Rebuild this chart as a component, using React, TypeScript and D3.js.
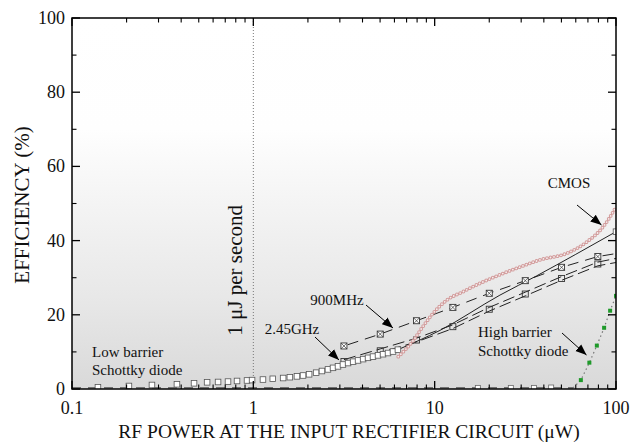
import React from "react";
import * as d3 from "d3";

// ---- data ----
const xTicks = [0.1, 1, 10, 100];
const xTickLabels = ["0.1", "1", "10", "100"];
const yTicks = [0, 20, 40, 60, 80, 100];
const yMinorTicks = [10, 30, 50, 70, 90];

// Low barrier Schottky diode, measured squares
const lowSqP = [0.139, 0.206, 0.276, 0.379, 0.471, 0.556, 0.639, 0.725, 0.813, 0.923, 0.984, 1.13, 1.28, 1.46, 1.59, 1.74, 1.88, 2.03, 2.22, 2.39, 2.58, 2.75, 2.93, 3.12, 3.33, 3.55, 3.78, 4.03, 4.29, 4.57, 4.87, 5.19, 5.53, 5.89, 6.27];
const lowSqEff = [0.46, 0.81, 1.08, 1.27, 1.54, 1.8, 1.89, 2.0, 2.16, 2.3, 2.4, 2.55, 2.75, 2.96, 3.18, 3.4, 3.64, 3.96, 4.4, 4.85, 5.28, 5.7, 6.1, 6.6, 7.0, 7.36, 7.7, 8.06, 8.4, 8.73, 9.06, 9.38, 9.7, 10.1, 10.6];
// Low barrier continuation (solid line)
const lowLineP = [6.27, 10.7, 22.9, 36.5, 60, 100];
const lowLineEff = [10.6, 15.8, 25.3, 30.5, 36.3, 42.4];

// 900 MHz
const mhzP = [3.16, 5.01, 7.94, 12.6, 20, 31.6, 50.1, 79.4, 100];
const mhzEff = [11.6, 14.8, 18.4, 22.0, 25.8, 29.2, 32.8, 35.7, 36.5];

// 2.45 GHz (double dashed lines + markers)
const ghzP = [3.16, 5.01, 7.94, 12.6, 20, 31.6, 50.1, 79.4, 100];
const ghzMarkEff = [7.4, 10.3, 13.2, 16.8, 21.5, 25.6, 29.8, 33.7, 34.6];
const ghzEffA = [7.9, 10.8, 13.7, 17.3, 22.0, 26.1, 30.3, 34.2, 35.2];
const ghzEffB = [6.9, 9.8, 12.7, 16.3, 21.0, 25.1, 29.3, 33.2, 34.1];

// CMOS
const cmosP = [6.3, 7.6, 8.6, 9.8, 11.7, 14.3, 17.8, 22.9, 30, 38.1, 53.7, 69.3, 84.9, 100];
const cmosEff = [8.7, 13, 16.8, 20.4, 24, 26.2, 28.5, 30.8, 33, 34.8, 36.6, 39.7, 43.7, 49];

// High barrier Schottky diode
const hbLineP = [0.1, 20, 58, 64, 71.3, 78.4, 86, 92.8, 100];
const hbLineEff = [0.3, 0.3, 0.3, 2.4, 7.1, 11.7, 16.5, 21.1, 25.1];
const hbDotP = [64, 71.3, 78.4, 86, 92.8, 100];
const hbDotEff = [2.4, 7.1, 11.7, 16.5, 21.1, 25.1];
const hbSqP = [17.3, 26.3, 35.3, 43.9];
const hbSqEff = [0.3, 0.3, 0.3, 0.4];

const W = 643, H = 444;
const L = 72, R = 616, T = 18, B = 389;
const FONT = "'Liberation Serif', 'DejaVu Serif', 'Times New Roman', serif";
const TS: React.CSSProperties = { fontFamily: FONT };

export default function App() {
  const x = d3.scaleLog().domain([0.1, 100]).range([L, R]);
  const y = d3.scaleLinear().domain([0, 100]).range([B, T]);
  const line = d3.line<[number, number]>().x(d => x(d[0])).y(d => y(d[1]));
  const smooth = d3.line<[number, number]>().x(d => x(d[0])).y(d => y(d[1])).curve(d3.curveMonotoneX);
  const zip = (a: number[], b: number[]) => a.map((v, i) => [v, b[i]] as [number, number]);

  const minorX: number[] = [];
  for (let dec = 0.1; dec < 100; dec *= 10) for (let k = 2; k <= 9; k++) minorX.push(+(dec * k).toPrecision(3));

  const lowLine = smooth(zip(lowLineP, lowLineEff)) || "";
  const cmosPath = smooth(zip(cmosP, cmosEff)) || "";

  return (
    <svg width={W} height={H} style={{ position: "absolute", left: 0, top: 0, background: "#fff", fontFamily: FONT }}>
      <defs>
        <linearGradient id="bg" x1="0" y1="0" x2="0" y2="1">
          <stop offset="0" stopColor="#ffffff" />
          <stop offset="0.3" stopColor="#fefefe" />
          <stop offset="0.5" stopColor="#f4f4f4" />
          <stop offset="0.75" stopColor="#e8e8e8" />
          <stop offset="1" stopColor="#d9d9d9" />
        </linearGradient>
        <marker id="arrow" viewBox="0 0 10 10" refX="10" refY="5" markerWidth="11" markerHeight="11" markerUnits="userSpaceOnUse" orient="auto">
          <path d="M0,1 L10,5 L0,9 Z" fill="#000" />
        </marker>
        <clipPath id="clip"><rect x={L} y={T} width={R - L} height={B - T} /></clipPath>
      </defs>
      <rect x={L} y={T} width={R - L} height={B - T} fill="url(#bg)" />

      {/* 1 uJ per second vertical dotted line */}
      <line x1={x(1)} x2={x(1)} y1={T} y2={B} stroke="#777" strokeWidth={1} strokeDasharray="1 2" />
      <text style={TS} transform={`translate(${x(1) - 11},${y(32)}) rotate(-90)`} textAnchor="middle" fontSize={21} fill="#111">1 μJ per second</text>

      <g clipPath="url(#clip)">
        {/* High barrier near-zero dashed + dotted rise */}
        <path d={line(zip(hbLineP.slice(0, 3), hbLineEff.slice(0, 3))) || ""} fill="none" stroke="#333" strokeWidth={1} strokeDasharray="9 7" />
        <path d={line(zip(hbLineP.slice(2), hbLineEff.slice(2))) || ""} fill="none" stroke="#777" strokeWidth={1.2} strokeDasharray="1.5 3" />
        {hbDotP.map((p, i) => (
          <rect key={"hb" + i} x={x(p) - 2} y={y(hbDotEff[i]) - 2} width={4} height={4} fill="#1f9a2a" />
        ))}
        {hbSqP.map((p, i) => (
          <rect key={"hs" + i} x={x(p) - 2.5} y={y(hbSqEff[i]) - 2.5} width={5} height={5} fill="#fff" stroke="#666" strokeWidth={0.8} />
        ))}

        {/* Low barrier solid continuation */}
        <path d={lowLine} fill="none" stroke="#222" strokeWidth={1} />

        {/* 2.45 GHz double dashed lines */}
        <path d={line(zip(ghzP, ghzEffA)) || ""} fill="none" stroke="#222" strokeWidth={1} strokeDasharray="12 5" />
        <path d={line(zip(ghzP, ghzEffB)) || ""} fill="none" stroke="#222" strokeWidth={1} strokeDasharray="12 5" strokeDashoffset={4} />
        {ghzP.slice(0, 8).map((p, i) => (
          <rect key={"g" + i} x={x(p) - 3} y={y(ghzMarkEff[i]) - 3} width={6} height={6} fill="none" stroke="#333" strokeWidth={0.9} />
        ))}

        {/* 900 MHz dashed */}
        <path d={line(zip(mhzP, mhzEff)) || ""} fill="none" stroke="#222" strokeWidth={1} strokeDasharray="11 7" strokeDashoffset={-4} />
        {mhzP.slice(0, 8).map((p, i) => {
          const cx = x(p), cy = y(mhzEff[i]);
          return (
            <g key={"m" + i}>
              <rect x={cx - 3} y={cy - 3} width={6} height={6} fill="#fff" stroke="#333" strokeWidth={0.9} />
              <path d={`M${cx - 3},${cy - 3}L${cx + 3},${cy + 3}M${cx + 3},${cy - 3}L${cx - 3},${cy + 3}`} stroke="#333" strokeWidth={0.7} />
            </g>
          );
        })}

        {/* Low barrier squares */}
        {lowSqP.map((p, i) => (
          <rect key={"l" + i} x={x(p) - 2.8} y={y(lowSqEff[i]) - 2.8} width={5.6} height={5.6} fill="#fff" stroke="#555" strokeWidth={0.8} />
        ))}
        <rect x={x(100) - 2.8} y={y(42.4) - 2.8} width={5.6} height={5.6} fill="#fff" stroke="#555" strokeWidth={0.8} />

        {/* CMOS open-circle chain */}
        <path d={cmosPath} fill="none" stroke="#d29a9a" strokeWidth={3.8} strokeDasharray="0 3.6" strokeLinecap="round" />
        <path d={cmosPath} fill="none" stroke="#f4eeee" strokeWidth={1.8} strokeDasharray="0 3.6" strokeLinecap="round" />
      </g>

      {/* Frame */}
      <rect x={L} y={T} width={R - L} height={B - T} fill="none" stroke="#000" strokeWidth={1.5} />

      {/* X ticks (bottom & top, inward) */}
      {xTicks.map(t => (
        <g key={"xt" + t}>
          <line x1={x(t)} x2={x(t)} y1={B} y2={B - 8} stroke="#000" strokeWidth={1.3} />
          <line x1={x(t)} x2={x(t)} y1={T} y2={T + 8} stroke="#000" strokeWidth={1.3} />
        </g>
      ))}
      {minorX.map(t => (
        <g key={"xm" + t}>
          <line x1={x(t)} x2={x(t)} y1={B} y2={B - 4.5} stroke="#000" strokeWidth={1.1} />
          <line x1={x(t)} x2={x(t)} y1={T} y2={T + 4.5} stroke="#000" strokeWidth={1.1} />
        </g>
      ))}
      {xTicks.map((t, i) => (
        <text style={TS} key={"xl" + t} x={x(t)} y={B + 25} textAnchor="middle" fontSize={18} fill="#111">{xTickLabels[i]}</text>
      ))}

      {/* Y ticks (left & right, inward) */}
      {yTicks.map(t => (
        <g key={"yt" + t}>
          <line x1={L} x2={L + 8} y1={y(t)} y2={y(t)} stroke="#000" strokeWidth={1.3} />
          <line x1={R} x2={R - 8} y1={y(t)} y2={y(t)} stroke="#000" strokeWidth={1.3} />
          <text style={TS} x={L - 7} y={y(t) + 6} textAnchor="end" fontSize={18} fill="#111">{t}</text>
        </g>
      ))}
      {yMinorTicks.map(t => (
        <g key={"ym" + t}>
          <line x1={L} x2={L + 4.5} y1={y(t)} y2={y(t)} stroke="#000" strokeWidth={1.1} />
          <line x1={R} x2={R - 4.5} y1={y(t)} y2={y(t)} stroke="#000" strokeWidth={1.1} />
        </g>
      ))}

      {/* Axis titles */}
      <text style={TS} transform={`translate(29,205) rotate(-90)`} textAnchor="middle" fontSize={21} fill="#111">EFFICIENCY (%)</text>
      <text style={TS} x={349} y={438} textAnchor="middle" fontSize={19.5} fill="#111">RF POWER AT THE INPUT RECTIFIER CIRCUIT (μW)</text>

      {/* Annotations */}
      <text style={TS} x={569} y={188} textAnchor="middle" fontSize={15} fill="#111">CMOS</text>
      <line x1={577} y1={205} x2={601.5} y2={225} stroke="#000" strokeWidth={1} markerEnd="url(#arrow)" />

      <text style={TS} x={337} y={305} textAnchor="middle" fontSize={15} fill="#111">900MHz</text>
      <line x1={366} y1={305} x2={393} y2={328} stroke="#000" strokeWidth={1} markerEnd="url(#arrow)" />

      <text style={TS} x={292} y={334} textAnchor="middle" fontSize={15} fill="#111">2.45GHz</text>
      <line x1={315} y1={337} x2={339} y2={360} stroke="#000" strokeWidth={1} markerEnd="url(#arrow)" />

      <text style={TS} x={92} y={357} fontSize={15} fill="#111">Low barrier</text>
      <text style={TS} x={92} y={375} fontSize={15} fill="#111">Schottky diode</text>

      <text style={TS} x={478} y={337} fontSize={15} fill="#111">High barrier</text>
      <text style={TS} x={478} y={356} fontSize={15} fill="#111">Schottky diode</text>
      <line x1={562} y1={333} x2={586.5} y2={355} stroke="#000" strokeWidth={1} markerEnd="url(#arrow)" />
    </svg>
  );
}
